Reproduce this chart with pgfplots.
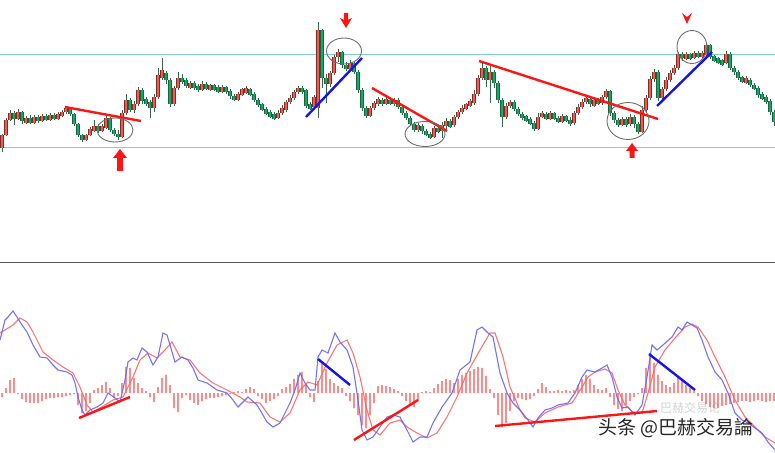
\documentclass[border=0pt]{standalone}
\usepackage{pgfplots}
\pgfplotsset{compat=1.18}
\usepackage{pgfplotstable}
\usepackage{fontspec}
\newfontfamily\cjk{Noto Sans CJK SC}
\definecolor{cgreen}{HTML}{10AC66}
\definecolor{cred}{HTML}{F05A50}
\definecolor{outg}{HTML}{1F6040}
\definecolor{outr}{HTML}{802C26}
\definecolor{wick}{HTML}{35684A}
\definecolor{cyanl}{HTML}{7FCCDA}
\definecolor{histred}{HTML}{FF4C4C}
\definecolor{macdblue}{HTML}{6464FF}
\definecolor{sigred}{HTML}{FF6464}
\definecolor{trred}{HTML}{FF1414}
\definecolor{trblue}{HTML}{1414F0}
\definecolor{sep}{HTML}{555555}
\definecolor{ell}{HTML}{6E6E6E}

% x  open close top bottom (price panel, screen units, down = larger) ; h = MACD histogram
\pgfplotstableread{
x o c t b h
2 148 135 134 152 -4
6 135 120 118 136 5
10 120 113 110 121 13
14 113 119 111 125 15
18 119 112 109 120 -1
22 112 121 111 124 -6
26 123 118 116 124 -9
30 118 123 115 124 -10
34 123 117 115 124 -10
38 117 121 115 123 -10
42 121 116 114 122 -8
46 116 120 114 121 -6
50 120 115 113 121 -5
54 115 119 113 120 -5
58 119 114 112 120 -4
62 116 112 110 117 -4
66 112 108 106 114 -3
70 108 114 107 116 -2
74 114 124 113 126 -1
78 124 135 123 137 -12
82 135 140 134 142 -20
86 140 135 134 141 -18
90 135 129 127 136 -10
94 131 126 120 132 3
98 126 131 124 133 5
102 131 126 124 132 8
106 128 118 116 129 11
110 118 130 117 132 5
114 130 134 128 136 -5
118 134 137 130 140 -3
122 137 113 110 138 10
126 113 100 94 115 26
130 100 110 98 112 25
134 110 104 101 113 15
138 104 90 87 106 10
142 90 101 88 104 5
146 99 104 97 106 2
150 102 108 100 118 -4
154 108 97 94 112 -9
158 97 75 68 99 6
162 78 70 58 80 15
166 73 80 71 84 18
170 80 104 78 107 8
174 104 88 86 106 -15
178 88 78 72 90 -19
182 78 82 74 84 -5
186 80 86 78 88 -2
190 88 83 81 89 -7
194 83 88 81 90 -10
198 86 90 84 92 -12
202 90 84 81 91 -8
206 84 89 82 90 -6
210 90 85 84 91 -5
214 85 90 84 91 -5
218 87 92 85 93 -4
222 92 87 85 93 -3
226 87 92 86 94 -2
230 91 96 89 99 -1
234 96 100 94 101 1
238 100 94 92 101 2
242 95 89 88 96 1
246 93 88 86 94 4
250 89 95 88 96 6
254 94 100 92 102 4
258 100 105 98 107 -3
262 104 110 103 111 -6
266 109 114 107 115 -10
270 112 117 110 118 -8
274 114 119 112 120 -6
278 118 113 110 119 -3
282 113 108 105 115 4
286 110 102 100 112 6
290 102 98 95 104 9
294 98 92 90 100 14
298 92 88 86 94 18
302 88 92 86 94 21
306 90 106 89 108 8
310 104 109 102 110 -4
314 107 97 95 109 -9
318 108 30 22 118 12
322 30 78 29 88 31
326 78 84 74 103 24
330 84 73 71 87 14
334 73 57 55 75 10
338 57 52 49 62 7
342 52 65 51 68 5
346 65 69 62 71 -3
350 69 63 60 70 -8
354 63 72 62 74 -15
358 72 90 70 93 -22
362 90 108 88 111 -32
366 108 116 106 118 -35
370 116 108 106 117 -22
374 108 103 101 110 -10
378 104 99 97 106 7
382 100 104 98 106 8
386 104 99 97 105 7
390 100 104 98 105 6
394 104 100 98 106 4
398 100 107 98 109 2
402 107 113 105 115 -3
406 113 118 111 120 -8
410 118 124 116 126 -12
414 124 130 122 132 -14
418 130 125 123 132 -8
422 126 131 124 134 1
426 131 135 129 136 2
430 134 138 132 139 1
434 137 128 126 138 5
438 128 132 125 133 9
442 131 125 122 138 12
446 126 121 118 130 14
450 121 127 119 128 13
454 125 117 115 127 10
458 117 112 110 119 14
462 112 108 105 114 18
466 109 104 103 110 20
470 106 101 99 107 22
474 103 94 90 105 24
478 94 78 75 96 26
482 78 68 63 80 25
486 68 80 66 87 17
490 80 72 64 103 4
494 72 83 70 88 -5
498 83 100 81 103 -22
502 100 117 98 127 -34
506 117 106 103 119 -30
510 106 102 100 108 -18
514 102 109 100 111 -8
518 109 114 107 116 -5
522 114 118 112 120 -6
526 116 121 115 122 -7
530 119 124 117 125 -6
534 123 129 121 131 -3
538 129 117 113 130 4
542 117 113 111 118 10
546 114 119 112 120 6
550 119 113 111 120 2
554 113 119 112 120 2
558 118 122 116 123 3
562 122 116 114 123 2
566 116 121 115 122 3
570 120 124 117 126 2
574 123 113 111 125 3
578 113 107 104 115 8
582 107 102 99 109 14
586 102 98 96 104 18
590 99 104 97 107 14
594 106 100 98 107 8
598 100 104 98 105 4
602 103 97 95 105 3
606 97 91 89 99 5
610 91 113 90 116 -4
614 113 120 111 123 -12
618 120 125 118 127 -16
622 125 119 117 126 -18
626 119 125 117 127 -12
630 124 117 114 126 -8
634 117 124 115 128 -4
638 124 132 122 134 -1
642 132 110 106 133 5
646 110 98 95 112 25
650 98 79 76 100 40
654 79 72 69 82 30
658 72 98 70 101 18
662 98 89 87 100 12
666 89 80 77 91 8
670 80 73 70 82 6
674 73 68 65 75 10
678 68 54 52 70 15
682 54 58 52 61 12
686 59 54 52 60 8
690 54 59 53 60 5
694 58 53 51 59 2
698 53 57 51 58 -3
702 57 53 51 58 -8
706 55 45 43 57 -11
710 45 57 44 59 -14
714 56 61 55 62 -15
718 58 63 57 64 -15
722 60 65 59 66 -13
726 63 54 51 64 -12
730 54 68 52 70 -11
734 68 72 66 75 -10
738 72 78 70 80 -9
742 77 82 76 83 -8
746 83 78 76 84 -8
750 80 85 78 87 -9
754 85 89 83 90 -8
758 88 95 86 98 -7
762 94 99 92 100 -8
766 97 102 95 104 -9
770 101 112 99 115 -8
774 112 122 110 126 -8
}\candles

\pgfplotsset{
  ebar/.style 2 args={only marks, mark=none, mark size=0pt,
    mark options={draw=none, fill=none}, forget plot,
    error bars/.cd, y dir=both, y explicit, error mark=none,
    error bar style={draw=#1, solid, line width=#2}},
}

\begin{document}
\begin{tikzpicture}
\useasboundingbox (0,0) rectangle (775pt,452pt);
% ---------- price panel ----------
\begin{axis}[
  at={(0pt,189pt)}, anchor=south west,
  scale only axis, width=775pt, height=263pt,
  xmin=0, xmax=775, ymin=0, ymax=263, y dir=reverse,
  hide axis, clip=false]
\addplot[cyanl, line width=0.9pt] coordinates {(0,54) (775,54)};
\addplot[cyanl, line width=0.9pt] coordinates {(0,147) (775,147)};
% wicks
\addplot[ebar={wick}{0.6pt}] table[x=x, y expr={(\thisrow{t}+\thisrow{b})/2}, y error expr={(\thisrow{b}-\thisrow{t})/2}] {\candles};
% rising candles (red)
\addplot[ebar={outr}{3.2pt}] table[x=x, y expr={\thisrow{c}<\thisrow{o} ? (\thisrow{o}+\thisrow{c})/2 : nan}, y error expr={abs(\thisrow{o}-\thisrow{c})/2+0.4}] {\candles};
\addplot[ebar={cred}{2.2pt}] table[x=x, y expr={\thisrow{c}<\thisrow{o} ? (\thisrow{o}+\thisrow{c})/2 : nan}, y error expr={max(abs(\thisrow{o}-\thisrow{c})/2-0.2,0.3)}] {\candles};
% falling candles (green)
\addplot[ebar={outg}{3.2pt}] table[x=x, y expr={\thisrow{c}<\thisrow{o} ? nan : (\thisrow{o}+\thisrow{c})/2}, y error expr={abs(\thisrow{o}-\thisrow{c})/2+0.4}] {\candles};
\addplot[ebar={cgreen}{2.2pt}] table[x=x, y expr={\thisrow{c}<\thisrow{o} ? nan : (\thisrow{o}+\thisrow{c})/2}, y error expr={max(abs(\thisrow{o}-\thisrow{c})/2-0.2,0.3)}] {\candles};
% trend lines
\addplot[trred, line width=2.4pt] coordinates {(65,107) (141,121)};
\addplot[trred, line width=2.4pt] coordinates {(372,88) (447,131)};
\addplot[trred, line width=2.4pt] coordinates {(479,61) (658,119)};
\addplot[trblue, line width=2.4pt] coordinates {(306,117) (362,58)};
\addplot[trblue, line width=2.4pt] coordinates {(657,106) (712,52)};
% circles
\draw[ell, line width=0.9pt] (axis cs:115,130) ellipse [x radius=18pt, y radius=12pt];
\draw[ell, line width=0.9pt] (axis cs:344,51) ellipse [x radius=17.5pt, y radius=13pt];
\draw[ell, line width=0.9pt] (axis cs:425,134) ellipse [x radius=20pt, y radius=12.5pt];
\draw[ell, line width=0.9pt] (axis cs:628,121) ellipse [x radius=21pt, y radius=18.5pt];
\draw[ell, line width=0.9pt] (axis cs:692,47) ellipse [x radius=15pt, y radius=16.5pt];
% arrows
\fill[trred] (axis cs:120,149) -- (axis cs:127,158) -- (axis cs:123,158) -- (axis cs:123,171) -- (axis cs:117,171) -- (axis cs:117,158) -- (axis cs:113,158) -- cycle;
\fill[trred] (axis cs:632,143) -- (axis cs:638,151) -- (axis cs:634.5,151) -- (axis cs:634.5,158) -- (axis cs:629.5,158) -- (axis cs:629.5,151) -- (axis cs:626,151) -- cycle;
\fill[trred] (axis cs:344,13) -- (axis cs:348,13) -- (axis cs:348,20) -- (axis cs:352,18) -- (axis cs:346,28) -- (axis cs:340,18) -- (axis cs:344,20) -- cycle;
\fill[trred] (axis cs:682,13) -- (axis cs:687,17) -- (axis cs:692,13) -- (axis cs:687,24) -- cycle;
\end{axis}
\draw[sep, line width=1pt] (0pt,189pt) -- (775pt,189pt);
% ---------- MACD panel ----------
\begin{axis}[
  at={(0pt,0pt)}, anchor=south west,
  scale only axis, width=775pt, height=189pt,
  xmin=0, xmax=775, ymin=-59, ymax=130,
  hide axis, clip=false]
\addplot[ybar, bar width=1.3pt, fill=histred, draw=none, forget plot] table[x=x, y=h] {\candles};
\addplot[sigred, line width=1.1pt, opacity=0.9] coordinates {(0,60)(13,68)(20,75)(27,71)(33,61)(43,41)(53,33)(63,26)(73,20)(80,6)(87,-12)(93,-19)(100,-15)(113,-7)(123,-4)(133,16)(140,33)(148,40)(157,35)(163,41)(172,51)(180,36)(190,33)(200,20)(213,10)(227,3)(240,-4)(247,-9)(260,-10)(270,-24)(280,-29)(290,-20)(300,3)(308,11)(317,8)(327,30)(337,48)(347,53)(353,40)(360,16)(367,-17)(373,-37)(380,-42)(390,-30)(400,-27)(407,-34)(417,-40)(427,-45)(437,-40)(447,-24)(457,-4)(467,20)(480,43)(490,60)(495,60)(503,36)(510,6)(520,-17)(525,-25)(535,-29)(545,-20)(558,-14)(572,-10)(582,6)(588,16)(595,21)(605,24)(612,20)(618,3)(625,-12)(633,-19)(642,-20)(648,0)(655,26)(665,43)(675,55)(685,66)(692,69)(698,66)(707,53)(715,36)(725,16)(735,-7)(745,-24)(755,-34)(765,-44)(775,-50)};
\addplot[macdblue, line width=1.1pt, opacity=0.9] coordinates {(0,53)(5,73)(8,76)(13,82)(17,76)(22,68)(27,61)(33,48)(40,36)(47,35)(53,28)(58,23)(67,21)(72,18)(75,10)(78,-4)(82,-17)(85,-22)(90,-17)(97,-14)(103,-10)(108,0)(115,-5)(120,-9)(125,13)(128,31)(133,35)(137,33)(142,45)(147,41)(153,28)(158,36)(163,60)(167,58)(170,48)(175,31)(182,36)(188,33)(193,25)(198,13)(207,10)(217,3)(227,0)(233,-7)(238,-14)(248,-4)(257,-12)(260,-17)(267,-29)(273,-34)(280,-30)(285,-20)(290,-10)(295,3)(300,20)(305,10)(310,3)(315,3)(318,36)(322,43)(328,40)(335,60)(340,51)(347,43)(353,26)(358,-7)(362,-37)(367,-47)(373,-44)(380,-34)(387,-24)(393,-22)(400,-24)(407,-37)(413,-49)(420,-44)(427,-44)(433,-30)(442,-14)(452,0)(460,23)(470,31)(477,63)(482,66)(488,60)(493,56)(500,20)(507,0)(513,-10)(520,-17)(528,-27)(533,-34)(538,-25)(545,-17)(552,-15)(558,-12)(568,-10)(575,0)(582,16)(587,23)(595,21)(602,25)(607,28)(612,16)(617,-4)(622,-15)(628,-14)(635,-22)(642,-12)(647,16)(652,48)(657,43)(663,48)(672,56)(678,66)(682,63)(687,71)(692,68)(697,65)(702,53)(708,36)(715,21)(722,13)(728,0)(735,-20)(742,-27)(748,-30)(755,-35)(762,-40)(768,-49)(775,-57)};
\addplot[trred, line width=2.4pt] coordinates {(79,-25) (130,-4)};
\addplot[trred, line width=2.4pt] coordinates {(354,-47) (418,-7)};
\addplot[trred, line width=2.4pt] coordinates {(495,-33) (657,-18)};
\addplot[trblue, line width=2.4pt] coordinates {(318,34) (350,8)};
\addplot[trblue, line width=2.4pt] coordinates {(649,39) (695,3)};
\end{axis}
% watermark
\node[anchor=west, text=gray, opacity=0.35, font=\cjk\fontsize{12}{12}\selectfont, inner sep=0pt] at (660pt,44pt) {巴赫交易论};
\node[anchor=west, text=black!85, font=\cjk\fontsize{19}{19}\selectfont, inner sep=0pt] at (598pt,24pt) {头条 @巴赫交易論};
\end{tikzpicture}
\end{document}
